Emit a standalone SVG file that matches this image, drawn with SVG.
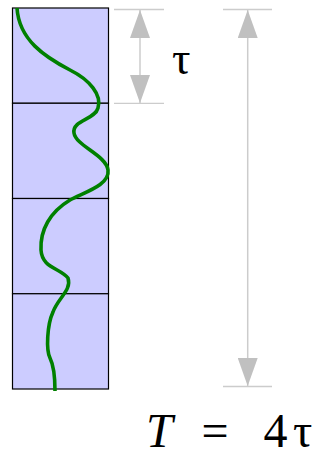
<svg xmlns="http://www.w3.org/2000/svg" width="322" height="452" viewBox="0 0 322 452">
<style>
.cell{fill:#ccccff;stroke:#000;stroke-width:1.2}
.ext{stroke:#cccccc;stroke-width:1.3;fill:none}
.dim{stroke:#cccccc;stroke-width:1.5;fill:none;marker-start:url(#ah);marker-end:url(#ah)}
.wave{fill:none;stroke:#008000;stroke-width:3.6;stroke-linecap:butt}
.serif{font-family:"Liberation Serif",serif;fill:#000}
</style>
<defs>
<marker id="ah" markerUnits="userSpaceOnUse" viewBox="0 0 28 20" refX="28" refY="10" markerWidth="28" markerHeight="20" orient="auto-start-reverse">
<path d="M0,0 L28,10 L0,20 Z" fill="#c0c0c0"/>
</marker>
</defs>
<g id="strip">
<rect class="cell" x="12.5" y="8" width="96" height="95.25"/>
<rect class="cell" x="12.5" y="103.25" width="96" height="95.25"/>
<rect class="cell" x="12.5" y="198.5" width="96" height="95.25"/>
<rect class="cell" x="12.5" y="293.75" width="96" height="95.25"/>
</g>
<g id="wave">
<path class="wave" d="M17,8 C19,40 45,57 70,70 C90,80 102,95 98,108 C95,120 72,120 74,133 C76,146 106,155 108,170 C110,185 85,192 70,200 C50,212 40,230 41,250 C42,268 60,268 68,278 C72,290 58,298 53,312 C47,325 46,350 50,358 C54,366 55,380 55,391"/>
</g>
<g id="connectors">
<line class="ext" x1="114" y1="9.5" x2="164" y2="9.5"/>
<line class="ext" x1="114" y1="103.3" x2="164" y2="103.3"/>
<line class="dim" x1="140" y1="10" x2="140" y2="103"/>
<line class="ext" x1="223" y1="9.5" x2="272" y2="9.5"/>
<line class="ext" x1="223" y1="386.5" x2="272" y2="386.5"/>
<line class="dim" x1="247.7" y1="10" x2="247.7" y2="386"/>
</g>
<g id="tau-label">
<text class="serif" x="172" y="74" font-size="46">τ</text>
</g>
<g id="formula">
<text class="serif" x="146" y="447" font-size="48" font-style="italic">T</text>
<text class="serif" x="201.5" y="447" font-size="48">=</text>
<text class="serif" x="263.5" y="447" font-size="48">4</text>
<text class="serif" x="293" y="447" font-size="48">τ</text>
</g>
</svg>
